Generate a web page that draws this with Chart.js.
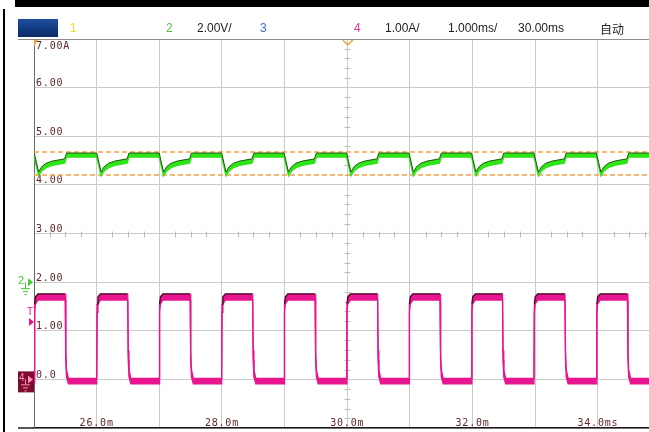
<!DOCTYPE html>
<html>
<head>
<meta charset="utf-8">
<script src="https://cdn.jsdelivr.net/npm/chart.js@4/dist/chart.umd.min.js"></script>
<style>
  html, body { margin: 0; padding: 0; background: #fff; overflow: hidden; }
  canvas { display: block; }
</style>
</head>
<body>
<canvas id="scope" width="649" height="432"></canvas>
<script>
// ---- status bar ----
const headerTexts = ['1', '2', '2.00V/', '3', '4', '1.00A/', '1.000ms/', '30.00ms', '自动'];

// ---- axes ----
const xTickValues = [26, 28, 30, 32, 34];
const xTickTexts  = ['26.0m', '28.0m', '30.0m', '32.0m', '34.0ms'];
const yTickValues = [7, 6, 5, 4, 3, 2, 1, 0];
const yTickTexts  = ['7.00A', '6.00', '5.00', '4.00', '3.00', '2.00', '1.00', '0.0'];

// ---- channel 4 (current, A): upper / lower trace envelope ----
const pinkT = [
  24.900,
  25.004, 25.010, 25.024, 25.064, 25.499, 25.507, 25.519, 25.549,
  26.001, 26.007, 26.021, 26.061, 26.496, 26.504, 26.516, 26.546,
  26.998, 27.004, 27.018, 27.058, 27.493, 27.501, 27.513, 27.543,
  27.995, 28.001, 28.015, 28.055, 28.490, 28.498, 28.510, 28.540,
  28.992, 28.998, 29.012, 29.052, 29.487, 29.495, 29.507, 29.537,
  29.989, 29.995, 30.009, 30.049, 30.484, 30.492, 30.504, 30.534,
  30.986, 30.992, 31.006, 31.046, 31.481, 31.489, 31.501, 31.531,
  31.983, 31.989, 32.003, 32.043, 32.478, 32.486, 32.498, 32.528,
  32.980, 32.986, 33.000, 33.040, 33.475, 33.483, 33.495, 33.525,
  33.977, 33.983, 33.997, 34.037, 34.472, 34.480, 34.492, 34.522,
  34.900
];
const pinkMaxA = [
  0.02,
  0.02, 1.55, 1.70, 1.76, 1.76, 0.60, 0.20, 0.02,
  0.02, 1.55, 1.70, 1.76, 1.76, 0.60, 0.20, 0.02,
  0.02, 1.55, 1.70, 1.76, 1.76, 0.60, 0.20, 0.02,
  0.02, 1.55, 1.70, 1.76, 1.76, 0.60, 0.20, 0.02,
  0.02, 1.55, 1.70, 1.76, 1.76, 0.60, 0.20, 0.02,
  0.02, 1.55, 1.70, 1.76, 1.76, 0.60, 0.20, 0.02,
  0.02, 1.55, 1.70, 1.76, 1.76, 0.60, 0.20, 0.02,
  0.02, 1.55, 1.70, 1.76, 1.76, 0.60, 0.20, 0.02,
  0.02, 1.55, 1.70, 1.76, 1.76, 0.60, 0.20, 0.02,
  0.02, 1.55, 1.70, 1.76, 1.76, 0.60, 0.20, 0.02,
  0.02
];
const pinkMinA = [
  -0.09,
  -0.09, 1.38, 1.55, 1.63, 1.63, 0.40, 0.05, -0.09,
  -0.09, 1.38, 1.55, 1.63, 1.63, 0.40, 0.05, -0.09,
  -0.09, 1.38, 1.55, 1.63, 1.63, 0.40, 0.05, -0.09,
  -0.09, 1.38, 1.55, 1.63, 1.63, 0.40, 0.05, -0.09,
  -0.09, 1.38, 1.55, 1.63, 1.63, 0.40, 0.05, -0.09,
  -0.09, 1.38, 1.55, 1.63, 1.63, 0.40, 0.05, -0.09,
  -0.09, 1.38, 1.55, 1.63, 1.63, 0.40, 0.05, -0.09,
  -0.09, 1.38, 1.55, 1.63, 1.63, 0.40, 0.05, -0.09,
  -0.09, 1.38, 1.55, 1.63, 1.63, 0.40, 0.05, -0.09,
  -0.09, 1.38, 1.55, 1.63, 1.63, 0.40, 0.05, -0.09,
  -0.09
];

// ---- channel 2 (voltage, V): upper / lower trace envelope ----
const greenT = [
  24.900,
  25.004, 25.074, 25.124, 25.194, 25.294, 25.489, 25.519,
  26.001, 26.071, 26.121, 26.191, 26.291, 26.486, 26.516,
  26.998, 27.068, 27.118, 27.188, 27.288, 27.483, 27.513,
  27.995, 28.065, 28.115, 28.185, 28.285, 28.480, 28.510,
  28.992, 29.062, 29.112, 29.182, 29.282, 29.477, 29.507,
  29.989, 30.059, 30.109, 30.179, 30.279, 30.474, 30.504,
  30.986, 31.056, 31.106, 31.176, 31.276, 31.471, 31.501,
  31.983, 32.053, 32.103, 32.173, 32.273, 32.468, 32.498,
  32.980, 33.050, 33.100, 33.170, 33.270, 33.465, 33.495,
  33.977, 34.047, 34.097, 34.167, 34.267, 34.462, 34.492,
  34.900
];
const greenMaxV = [
  5.31,
  5.31, 4.53, 4.75, 4.89, 4.98, 5.07, 5.31,
  5.31, 4.53, 4.75, 4.89, 4.98, 5.07, 5.31,
  5.31, 4.53, 4.75, 4.89, 4.98, 5.07, 5.31,
  5.31, 4.53, 4.75, 4.89, 4.98, 5.07, 5.31,
  5.31, 4.53, 4.75, 4.89, 4.98, 5.07, 5.31,
  5.31, 4.53, 4.75, 4.89, 4.98, 5.07, 5.31,
  5.31, 4.53, 4.75, 4.89, 4.98, 5.07, 5.31,
  5.31, 4.53, 4.75, 4.89, 4.98, 5.07, 5.31,
  5.31, 4.53, 4.75, 4.89, 4.98, 5.07, 5.31,
  5.31, 4.53, 4.75, 4.89, 4.98, 5.07, 5.31,
  5.31
];
const greenMinV = [
  5.14,
  5.14, 4.37, 4.57, 4.71, 4.80, 4.89, 5.14,
  5.14, 4.37, 4.57, 4.71, 4.80, 4.89, 5.14,
  5.14, 4.37, 4.57, 4.71, 4.80, 4.89, 5.14,
  5.14, 4.37, 4.57, 4.71, 4.80, 4.89, 5.14,
  5.14, 4.37, 4.57, 4.71, 4.80, 4.89, 5.14,
  5.14, 4.37, 4.57, 4.71, 4.80, 4.89, 5.14,
  5.14, 4.37, 4.57, 4.71, 4.80, 4.89, 5.14,
  5.14, 4.37, 4.57, 4.71, 4.80, 4.89, 5.14,
  5.14, 4.37, 4.57, 4.71, 4.80, 4.89, 5.14,
  5.14, 4.37, 4.57, 4.71, 4.80, 4.89, 5.14,
  5.14
];

// ---- horizontal cursors on channel 2 (V) ----
const cursorLevelsV = [5.35, 4.41];

// ---- screen window: 25.0 ms at the left graticule edge ----
const X_MIN = 25, X_MAX = 34.816;

const pts = (t, v) => t.map((x, i) => ({ x: x, y: v[i] }));

const PINK = '#e8158f', GREEN = '#30e41a', ORANGE = '#eea247';
const LABEL = '#5e2626';

const scopePlugin = {
  id: 'scopeScreen',
  beforeDraw(chart) {
    const c = chart.ctx;
    c.save();
    c.fillStyle = '#ffffff';
    c.fillRect(0, 0, chart.width, chart.height);
    // outer frame
    c.fillStyle = '#000';
    c.fillRect(15, 0, chart.width - 15, 7);
    c.fillRect(3, 9, 2, chart.height - 9);
    // status bar
    const g = c.createLinearGradient(0, 19, 0, 37);
    g.addColorStop(0, '#1d4f9e');
    g.addColorStop(1, '#0a2a66');
    c.fillStyle = g;
    c.fillRect(18, 19, 40, 18);
    c.textBaseline = 'middle';
    c.font = '12px "Liberation Sans", Arial, sans-serif';
    const hx = [70, 166, 197, 260, 354, 385, 448, 518];
    const hc = ['#e6e21c', '#52c640', '#1e1e1e', '#3f6dcc', '#e0309a', '#1e1e1e', '#1e1e1e', '#1e1e1e'];
    for (let i = 0; i < 8; i++) {
      c.fillStyle = hc[i];
      c.fillText(headerTexts[i], hx[i], 29);
    }
    c.font = '12px "Noto Sans CJK SC", sans-serif';
    c.fillStyle = '#1e1e1e';
    c.fillText(headerTexts[8], 600, 29);
    c.restore();
  },
  beforeDatasetsDraw(chart) {
    const c = chart.ctx, xs = chart.scales.x, ys = chart.scales.y, a = chart.chartArea;
    c.save();
    // frame lines continuing left of the graticule
    c.strokeStyle = '#222';
    c.lineWidth = 1.5;
    c.beginPath();
    c.moveTo(18, a.bottom); c.lineTo(a.left, a.bottom);
    c.stroke();
    c.strokeStyle = '#8c8c8c';
    c.lineWidth = 1;
    c.beginPath();
    c.moveTo(18, a.top + 0.5); c.lineTo(a.left, a.top + 0.5);
    c.stroke();
    // minor ticks on the centre cross
    const cx = Math.round(xs.getPixelForValue(30)) + 0.5;
    const cy = Math.round(ys.getPixelForValue(3)) + 0.5;
    c.strokeStyle = '#bcbcbc';
    c.lineWidth = 1;
    c.beginPath();
    for (let v = -1; v <= 7.001; v += 0.2) {
      if (Math.abs(v - Math.round(v)) < 0.01) continue;
      const y = Math.round(ys.getPixelForValue(v)) + 0.5;
      c.moveTo(cx - 3, y); c.lineTo(cx + 3, y);
    }
    for (let t = 25; t <= X_MAX; t += 0.25) {
      if (Math.abs(t - Math.round(t)) < 0.01) continue;
      const x = Math.round(xs.getPixelForValue(t)) + 0.5;
      c.moveTo(x, cy - 3); c.lineTo(x, cy + 3);
    }
    c.stroke();
    // scale labels
    c.fillStyle = LABEL;
    c.font = '10px "DejaVu Sans Mono", monospace';
    c.letterSpacing = '0.8px';
    c.textAlign = 'left';
    yTickValues.forEach((v, i) => {
      const y = ys.getPixelForValue(v);
      if (v === ys.max) {
        c.textBaseline = 'top';
        c.fillText(yTickTexts[i], a.left + 2, y + 2);
      } else {
        c.textBaseline = 'alphabetic';
        c.fillText(yTickTexts[i], a.left + 2, y - 1.5);
      }
    });
    c.textAlign = 'center';
    c.textBaseline = 'alphabetic';
    xTickValues.forEach((v, i) => {
      c.fillText(xTickTexts[i], xs.getPixelForValue(v), a.bottom - 2);
    });
    c.restore();
  },
  afterDatasetsDraw(chart) {
    const c = chart.ctx, xs = chart.scales.x, ys = chart.scales.y, a = chart.chartArea;
    c.save();
    // trigger position marker at the top
    const tx = xs.getPixelForValue(30) + 0.5;
    c.strokeStyle = ORANGE;
    c.lineWidth = 1.5;
    c.beginPath();
    c.moveTo(tx - 5, a.top + 1); c.lineTo(tx, a.top + 6); c.lineTo(tx + 5, a.top + 1);
    c.stroke();
    // small marker in the top-left corner
    c.fillStyle = '#f0a030';
    c.beginPath();
    c.moveTo(a.left, a.top + 1); c.lineTo(a.left + 4, a.top + 1); c.lineTo(a.left, a.top + 6);
    c.closePath(); c.fill();
    c.fillRect(a.left, a.top + 1, 1.5, 6);
    // channel 2 ground marker
    const y2 = ys.getPixelForValue(2);
    c.fillStyle = '#45c83a';
    c.strokeStyle = '#45c83a';
    c.font = '11px "Liberation Sans", sans-serif';
    c.textBaseline = 'middle';
    c.textAlign = 'left';
    c.fillText('2', 18, y2 - 1);
    c.beginPath();
    c.moveTo(28, y2 - 4); c.lineTo(33, y2); c.lineTo(28, y2 + 4); c.closePath(); c.fill();
    c.lineWidth = 1;
    c.beginPath();
    c.moveTo(25.5, y2); c.lineTo(25.5, y2 + 6);
    c.moveTo(21, y2 + 6.5); c.lineTo(30, y2 + 6.5);
    c.moveTo(23, y2 + 9.5); c.lineTo(28, y2 + 9.5);
    c.moveTo(24.5, y2 + 12.5); c.lineTo(26.5, y2 + 12.5);
    c.stroke();
    // trigger level marker
    const yt = ys.getPixelForValue(1.18);
    c.fillStyle = PINK;
    c.font = '10px "Liberation Sans", sans-serif';
    c.fillText('T', 27, yt - 10);
    c.beginPath();
    c.moveTo(29, yt - 4); c.lineTo(34, yt); c.lineTo(29, yt + 4); c.closePath(); c.fill();
    // channel 4 ground marker
    const y4 = ys.getPixelForValue(0);
    c.fillStyle = '#7c0b2c';
    c.fillRect(18, y4 - 8, 16, 21);
    c.fillStyle = '#ff8fc4';
    c.strokeStyle = '#ff8fc4';
    c.font = '10px "Liberation Sans", sans-serif';
    c.fillText('4', 19, y4 - 1);
    c.beginPath();
    c.moveTo(28, y4 - 4); c.lineTo(33, y4); c.lineTo(28, y4 + 4); c.closePath(); c.fill();
    c.beginPath();
    c.moveTo(25.5, y4); c.lineTo(25.5, y4 + 5);
    c.moveTo(21, y4 + 5.5); c.lineTo(30, y4 + 5.5);
    c.moveTo(23, y4 + 8.5); c.lineTo(28, y4 + 8.5);
    c.moveTo(24.5, y4 + 11.5); c.lineTo(26.5, y4 + 11.5);
    c.stroke();
    c.restore();
  }
};

new Chart(document.getElementById('scope'), {
  type: 'line',
  data: {
    datasets: [
      { label: 'cursor A', yAxisID: 'v', order: 3,
        data: pts([X_MIN, X_MAX], [cursorLevelsV[0], cursorLevelsV[0]]),
        borderColor: ORANGE, borderWidth: 1.5, borderDash: [5, 3], fill: false },
      { label: 'cursor B', yAxisID: 'v', order: 3,
        data: pts([X_MIN, X_MAX], [cursorLevelsV[1], cursorLevelsV[1]]),
        borderColor: ORANGE, borderWidth: 1.5, borderDash: [5, 3], fill: false },
      { label: 'CH2 max', yAxisID: 'v', order: 2,
        data: pts(greenT, greenMaxV),
        borderColor: '#1f5a0c', borderWidth: 1, fill: false },
      { label: 'CH2 min', yAxisID: 'v', order: 2,
        data: pts(greenT, greenMinV),
        borderColor: GREEN, borderWidth: 1.3, backgroundColor: GREEN, fill: { target: 2 } },
      { label: 'CH4 max', yAxisID: 'y', order: 1,
        data: pts(pinkT, pinkMaxA),
        borderColor: PINK, borderWidth: 1.3, fill: false,
        segment: { borderColor: s => (s.p0.parsed.y > 1.3 && s.p1.parsed.y > 1.3) ? '#3a0820' : PINK } },
      { label: 'CH4 min', yAxisID: 'y', order: 1,
        data: pts(pinkT, pinkMinA),
        borderColor: PINK, borderWidth: 1.3, backgroundColor: PINK, fill: { target: 4 } }
    ]
  },
  options: {
    responsive: false,
    animation: false,
    devicePixelRatio: 1,
    layout: { padding: { left: 34, top: 39, right: 0, bottom: 4 } },
    plugins: { legend: { display: false }, tooltip: { enabled: false } },
    elements: { point: { radius: 0 }, line: { tension: 0 } },
    scales: {
      x: {
        type: 'linear', min: X_MIN, max: X_MAX,
        afterFit: s => { s.height = 0; },
        ticks: { display: false, stepSize: 1, includeBounds: false },
        grid: { color: '#cacaca', lineWidth: 1, drawTicks: false },
        border: { color: '#1a1a1a', width: 1.5 }
      },
      y: {
        min: -1, max: 7,
        afterFit: s => { s.width = 0; },
        ticks: { display: false, stepSize: 1 },
        grid: { color: c => (c.tick && c.tick.value === 7) ? '#8c8c8c' : '#cacaca', lineWidth: 1, drawTicks: false },
        border: { color: '#6a6a6a', width: 1 }
      },
      v: { min: -6, max: 10, display: false }
    }
  },
  plugins: [scopePlugin]
});
</script>
</body>
</html>
